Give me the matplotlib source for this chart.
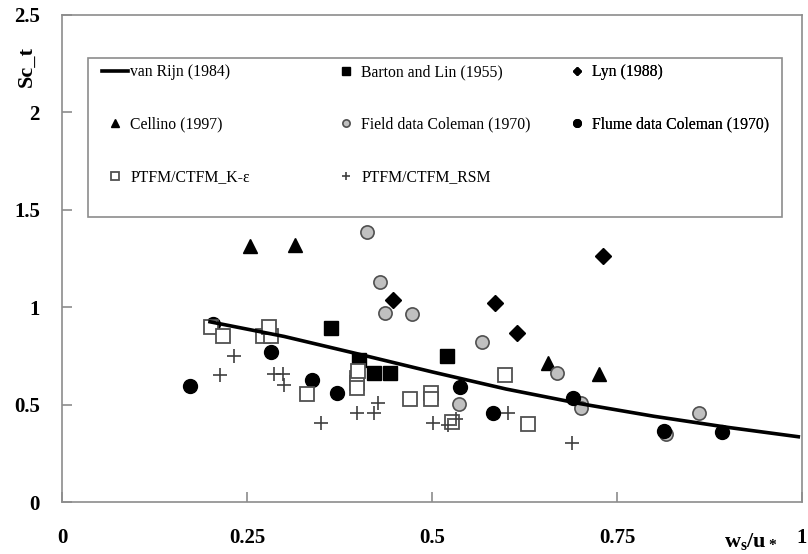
import matplotlib
matplotlib.use("Agg")
import matplotlib.pyplot as plt
from matplotlib.patches import Rectangle

plt.rcParams['font.family'] = ['Liberation Serif', 'DejaVu Serif']
plt.rcParams['mathtext.fontset'] = 'custom'
plt.rcParams['mathtext.rm'] = 'Liberation Serif'
plt.rcParams['mathtext.bf'] = 'Liberation Serif:bold'

# van Rijn (1984) curve
rijn_x = [0.2, 0.3, 0.4, 0.5, 0.6, 0.7, 0.8, 0.9, 0.995]
rijn_y = [0.925, 0.85, 0.76, 0.668, 0.58, 0.505, 0.44, 0.383, 0.335]

barton_x = [0.364, 0.402, 0.422, 0.443, 0.520]
barton_y = [0.895, 0.729, 0.664, 0.664, 0.750]

lyn_x = [0.447, 0.585, 0.615, 0.731]
lyn_y = [1.037, 1.020, 0.866, 1.263]

cellino_x = [0.254, 0.315, 0.657, 0.725]
cellino_y = [1.314, 1.319, 0.712, 0.656]

field_x = [0.412, 0.430, 0.436, 0.473, 0.568, 0.536, 0.669, 0.702, 0.702, 0.861, 0.816]
field_y = [1.388, 1.131, 0.969, 0.965, 0.823, 0.501, 0.664, 0.506, 0.481, 0.455, 0.347]

flume_x = [0.173, 0.204, 0.282, 0.338, 0.372, 0.538, 0.583, 0.690, 0.813, 0.892]
flume_y = [0.597, 0.912, 0.772, 0.626, 0.558, 0.592, 0.459, 0.532, 0.364, 0.361]

ke_x = [0.202, 0.217, 0.271, 0.282, 0.280, 0.331, 0.399, 0.399, 0.399, 0.400,
        0.470, 0.499, 0.499, 0.527, 0.599, 0.630]
ke_y = [0.897, 0.852, 0.852, 0.852, 0.900, 0.553, 0.635, 0.609, 0.583, 0.670,
        0.529, 0.558, 0.529, 0.412, 0.652, 0.400]

rsm_x = [0.232, 0.214, 0.286, 0.298, 0.300, 0.350, 0.399, 0.422, 0.427, 0.501,
         0.522, 0.533, 0.603, 0.689]
rsm_y = [0.750, 0.652, 0.655, 0.655, 0.600, 0.404, 0.455, 0.455, 0.507, 0.404,
         0.395, 0.424, 0.455, 0.301]

W, H = 808, 554
fig = plt.figure(figsize=(W / 100, H / 100), dpi=100)
ax = fig.add_axes([62 / W, 1 - 502 / H, 740 / W, 487 / H])

ms = 9.5
line_rijn, = ax.plot(rijn_x, rijn_y, color='black', lw=2.6, zorder=5, label='van Rijn (1984)')
h_barton, = ax.plot(barton_x, barton_y, 's', color='black', ms=ms, ls='none', label='Barton and Lin (1955)')
h_lyn, = ax.plot(lyn_x, lyn_y, 'D', color='black', ms=8, ls='none', label='Lyn (1988)')
h_cell, = ax.plot(cellino_x, cellino_y, '^', color='black', ms=ms, ls='none', label='Cellino (1997)')
h_field, = ax.plot(field_x, field_y, 'o', mfc='#c0c0c0', mec='#505050', mew=1.2, ms=ms,
                   ls='none', label='Field data Coleman (1970)')
h_flume, = ax.plot(flume_x, flume_y, 'o', color='black', ms=ms + 0.5, ls='none',
                   label='Flume data Coleman (1970)')
h_ke, = ax.plot(ke_x, ke_y, 's', mfc='white', mec='#505050', mew=1.3, ms=ms, ls='none',
                label='PTFM/CTFM_K-ε')
h_rsm, = ax.plot(rsm_x, rsm_y, '+', color='#404040', mew=1.2, ms=ms + 1, ls='none',
                 label='PTFM/CTFM_RSM')

ax.set_xlim(0, 1)
ax.set_ylim(0, 2.5)
ax.set_xticks([0, 0.25, 0.5, 0.75, 1])
ax.set_xticklabels(['0', '0.25', '0.5', '0.75', '1'])
ax.set_yticks([0, 0.5, 1, 1.5, 2, 2.5])
ax.set_yticklabels(['0', '0.5', '1', '1.5', '2', '2.5'])
for s in ax.spines.values():
    s.set_color('#8c8c8c')
    s.set_linewidth(1.2)
ax.tick_params(direction='in', length=7, color='#8c8c8c', width=1.2, labelsize=15)
ax.tick_params(axis='y', pad=16)
ax.tick_params(axis='x', pad=19)
for lab in ax.get_xticklabels() + ax.get_yticklabels():
    lab.set_fontweight('bold')

fig.text(27 / W, 1 - 67 / H, 'Sc_t', rotation=90, fontsize=16, fontweight='bold',
         ha='center', va='center')
fig.text(751 / W, 1 - 541 / H, r'$\mathbf{w_s/u_*}$', fontsize=16, ha='center', va='center')

# legend frame
ax.add_patch(Rectangle((26 / 740, 1 - 159 / 487 - 43 / 487), 694 / 740, 159 / 487,
                       transform=ax.transAxes, facecolor='white', edgecolor='#8c8c8c',
                       lw=1.2, zorder=6))

cols = [
    ([line_rijn, h_cell, h_ke], 102),
    ([h_barton, h_field, h_rsm], 333),
    ([h_lyn, h_flume], 564),
]
for handles, x0 in cols:
    leg = ax.legend(handles=handles, loc='upper left', bbox_to_anchor=(x0 / W, 1 - 64 / H),
                    bbox_transform=fig.transFigure, frameon=False, fontsize=11.3,
                    borderpad=0, borderaxespad=0, handlelength=1.66, handletextpad=0.15,
                    labelspacing=2.33, markerscale=0.55)
    leg.set_zorder(7)
    ax.add_artist(leg)

fig.savefig('out.png', dpi=100)
